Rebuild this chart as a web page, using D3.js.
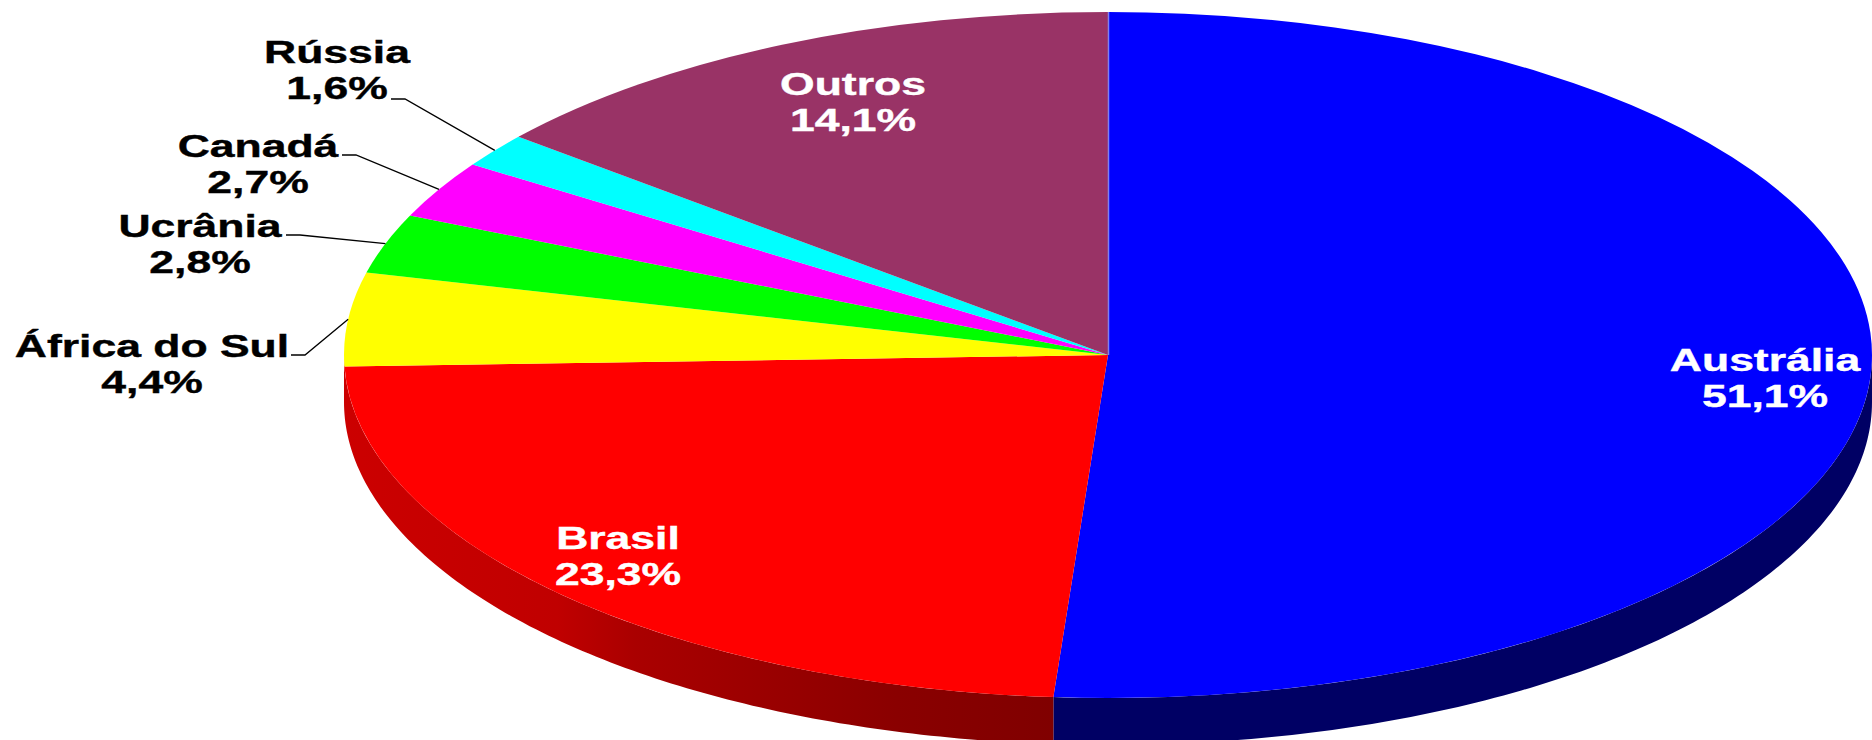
<!DOCTYPE html>
<html><head><meta charset="utf-8">
<script src="https://cdn.jsdelivr.net/npm/d3@7/dist/d3.min.js"></script>
<style>html,body{margin:0;padding:0;background:#fff}svg{display:block}</style>
</head><body><svg id="c" width="1872" height="740"></svg>
<script>
const categories = ["Austrália","Brasil","África do Sul","Ucrânia","Canadá","Rússia","Outros"];
const values = [51.1,23.3,4.4,2.8,2.7,1.6,14.1];
const valueLabels = ["51,1%","23,3%","4,4%","2,8%","2,7%","1,6%","14,1%"];
const colors = ["#0000ff","#ff0000","#ffff00","#00ff00","#ff00ff","#00ffff","#993366"];
const textColors = ["#fff","#fff","#000","#000","#000","#000","#fff"];
// layout only
const labelCenters = [[1765,371],[618,549],[152,357],[200,237],[258,157],[337,63],[853,95]];
const leaderStarts = [null,null,[291,355],[286,235],[342,155],[391,99],null];
const cx=1108, cy=355, rx=764, ry=343, depth=47;

const svg=d3.select("#c");
const defs=svg.append("defs");
// small perspective correction of the tilted pie: cumulative percent -> drawn angle
const deg=Math.PI/180;
const angle=d3.scaleLinear().domain([0,51.1,85.9,100]).range([0,184.1*deg,309.5*deg,360*deg]);
let cum=0;
const pie=values.map(v=>{const d={value:v,startAngle:angle(cum),endAngle:angle(cum+v)};cum+=v;return d;});
const px=a=>cx+rx*Math.sin(a), py=a=>cy-ry*Math.cos(a);

// side walls
const redStops=[[0,"#800000"],[0.22,"#8a0000"],[0.59,"#aa0000"],[0.7,"#c00000"],[1,"#cc0000"]];
const gr=defs.append("linearGradient").attr("id","w1").attr("gradientUnits","userSpaceOnUse")
  .attr("x1",px(pie[1].startAngle)).attr("x2",cx-rx).attr("y1",0).attr("y2",0);
redStops.forEach(s=>gr.append("stop").attr("offset",s[0]).attr("stop-color",s[1]));
const wallArea=d3.area().x(a=>px(a)).y0(a=>py(a)).y1(a=>py(a)+depth);
[[Math.PI/2,pie[0].endAngle,"#000064"],[pie[1].startAngle,Math.PI*1.5,"url(#w1)"]].forEach(([a0,a1,f])=>{
  svg.append("path").attr("d",wallArea(d3.range(0,121).map(k=>a0+(a1-a0)*k/120))).attr("fill",f);
});

// top surface
const arc=d3.arc().innerRadius(0).outerRadius(rx);
svg.append("g").attr("transform",`translate(${cx},${cy}) scale(1,${ry/rx})`)
 .selectAll("path").data(pie).join("path").attr("d",arc).attr("fill",(d,i)=>colors[i]);
svg.append("line").attr("x1",cx+0.5).attr("x2",cx+0.5).attr("y1",cy-ry).attr("y2",cy).attr("stroke","#8080f0").attr("stroke-width",1.5);

// leaders
pie.forEach((d,i)=>{
  if(!leaderStarts[i])return;
  const m=(d.startAngle+d.endAngle)/2,[x,y]=leaderStarts[i];
  svg.append("path").attr("d",d3.line()([[x,y],[x+14,y],[px(m),py(m)]])).attr("fill","none").attr("stroke","#000").attr("stroke-width",1.3);
});

// labels
categories.forEach((c,i)=>{
  const [x,y]=labelCenters[i];
  const g=svg.append("g").attr("transform",`translate(${x},${y}) scale(1.39,1)`)
    .attr("font-family","'Liberation Sans',Arial,sans-serif").attr("font-weight","bold").attr("font-size",32)
    .attr("text-anchor","middle").attr("fill",textColors[i])
    .attr("stroke",textColors[i]).attr("stroke-width",0.4);
  g.append("text").text(c);
  g.append("text").attr("y",36).text(valueLabels[i]);
});
</script></body></html>
